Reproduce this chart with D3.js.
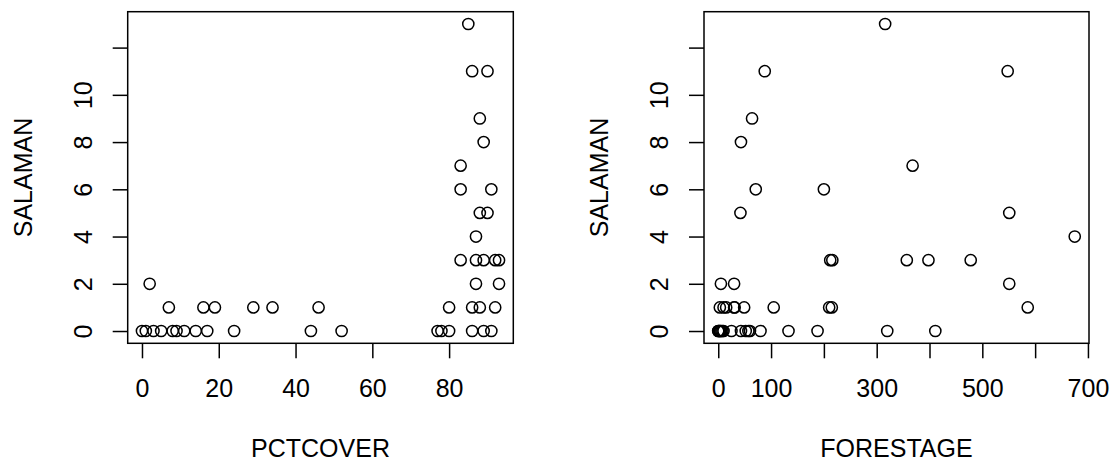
<!DOCTYPE html>
<html>
<head>
<meta charset="utf-8">
<script src="https://cdn.jsdelivr.net/npm/d3@7"></script>
<style>
  body { margin: 0; background: #fff; }
  svg { display: block; font-family: "Liberation Sans", Arial, sans-serif; }
</style>
</head>
<body>
<svg id="chart" width="1110" height="464"></svg>
<script>
// salamander sites: count, percent canopy cover, forest age
var salaman = [13, 11, 11, 9, 8, 7, 6, 6, 5, 5, 4, 3, 3, 3, 3, 3, 2, 2, 2,
               1, 1, 1, 1, 1, 1, 1, 1, 1, 1,
               0, 0, 0, 0, 0, 0, 0, 0, 0, 0, 0, 0, 0, 0, 0, 0, 0, 0];
var pctcover = [85, 86, 90, 88, 89, 83, 83, 91, 88, 90, 87, 83, 87, 89, 92, 93, 2, 87, 93,
                7, 16, 19, 29, 34, 46, 80, 86, 88, 92,
                0, 1, 3, 5, 8, 9, 11, 14, 17, 24, 44, 52, 77, 78, 80, 86, 89, 91];
var forestage = [316, 88, 548, 64, 43, 368, 200, 71, 42, 551, 675, 212, 216, 398, 357, 478, 5, 30, 551,
                 3, 15, 31, 10, 49, 30, 215, 586, 105, 210,
                 0, 4, 3, 2, 10, 8, 6, 25, 43, 52, 57, 60, 80, 133, 188, 320, 411, 0];

var yTicks = [0, 2, 4, 6, 8, 10, 12];
var yTickLabels = ["0", "2", "4", "6", "8", "10", ""];
var coverTicks = [0, 20, 40, 60, 80];
var ageTicks = [0, 100, 200, 300, 400, 500, 600, 700];
var ageTickLabels = ["0", "100", "", "300", "", "500", "", "700"];

var svg = d3.select("#chart");
var line = 30;          // one margin line in px
var fontSize = 25;

// plot boxes share top and bottom edges
var plotTop = 11.7, plotBottom = 343.3;

// R style 4% padding around the data range
function padded(values) {
  var ext = d3.extent(values), d = (ext[1] - ext[0]) * 0.04;
  return [ext[0] - d, ext[1] + d];
}

var y = d3.scaleLinear().domain(padded(salaman)).range([plotBottom, plotTop]);

function panel(x0, x1, xvals, xlab, xticks, xlabels) {
  var x = d3.scaleLinear().domain(padded(xvals)).range([x0, x1]);
  var g = svg.append("g");

  // x axis
  var xa = g.append("g")
      .attr("transform", "translate(0," + plotBottom + ")")
      .call(d3.axisBottom(x).tickValues(xticks).tickSize(15).tickSizeOuter(0)
            .tickFormat(function(d, i) { return xlabels[i]; }));
  xa.select(".domain").remove();
  xa.selectAll("line").attr("stroke", "#000").attr("stroke-width", 1.5);
  xa.selectAll("text")
      .attr("y", line * 1.8).attr("dy", null)
      .attr("fill", "#000").style("font-size", fontSize + "px")
      .style("font-family", "Liberation Sans, Arial, sans-serif");

  // y axis, labels parallel to the axis
  var ya = g.append("g")
      .attr("transform", "translate(" + x0 + ",0)")
      .call(d3.axisLeft(y).tickValues(yTicks).tickSize(15).tickSizeOuter(0)
            .tickFormat(function(d, i) { return yTickLabels[i]; }));
  ya.select(".domain").remove();
  ya.selectAll("line").attr("stroke", "#000").attr("stroke-width", 1.5);
  ya.selectAll("text")
      .attr("x", null).attr("dy", null)
      .attr("text-anchor", "middle")
      .attr("transform", "translate(" + (-line * 1.2) + ",0) rotate(-90)")
      .attr("fill", "#000").style("font-size", fontSize + "px")
      .style("font-family", "Liberation Sans, Arial, sans-serif");

  // box
  g.append("rect")
      .attr("x", x0).attr("y", plotTop)
      .attr("width", x1 - x0).attr("height", plotBottom - plotTop)
      .attr("fill", "none").attr("stroke", "#000").attr("stroke-width", 1.5);

  // points
  g.selectAll("circle")
      .data(xvals)
      .enter().append("circle")
      .attr("cx", function(d) { return x(d); })
      .attr("cy", function(d, i) { return y(salaman[i]); })
      .attr("r", 5.6)
      .attr("fill", "none").attr("stroke", "#000").attr("stroke-width", 1.5);

  // axis titles
  g.append("text")
      .attr("x", (x0 + x1) / 2).attr("y", plotBottom + line * 3.8)
      .attr("text-anchor", "middle").style("font-size", fontSize + "px")
      .text(xlab);
  g.append("text")
      .attr("transform", "translate(" + (x0 - line * 3.2) + "," + (plotTop + plotBottom) / 2 + ") rotate(-90)")
      .attr("text-anchor", "middle").style("font-size", fontSize + "px")
      .text("SALAMAN");
}

panel(127.7, 513.3, pctcover, "PCTCOVER", coverTicks, coverTicks.map(String));
panel(704, 1089, forestage, "FORESTAGE", ageTicks, ageTickLabels);
</script>
</body>
</html>
